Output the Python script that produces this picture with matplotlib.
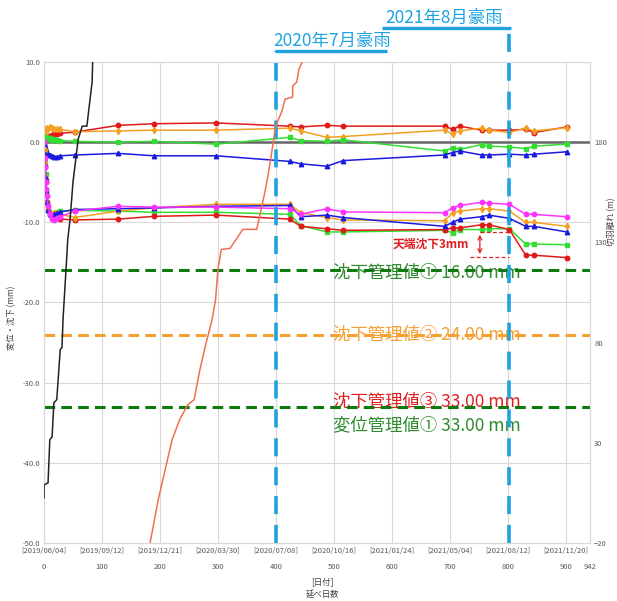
import matplotlib
matplotlib.use("Agg")
import matplotlib.pyplot as plt

plt.rcParams['font.family'] = ['Noto Sans CJK JP', 'DejaVu Sans']

# ---------------- data ----------------
early_days = [0, 1, 2, 3, 4, 5, 7, 10, 14, 18, 22, 28]
main_days = [53, 128, 190, 297, 424, 443, 488, 516, 691, 705, 717, 755, 767, 803, 831, 845, 902]

# upper group (mm)
up_red_early = [0, 0.2, 0.3, 0.5, 0.6, 0.7, 0.8, 0.8, 0.9, 1.0, 1.0, 1.1]
up_red = [1.25, 2.1, 2.3, 2.4, 2.0, 1.9, 2.1, 2.0, 2.0, 1.6, 2.0, 1.5, 1.5, 1.5, 1.6, 1.2, 1.9]
up_orange_early = [0, 1.0, 1.4, 1.6, 1.7, 1.8, 1.7, 1.9, 1.8, 1.7, 1.6, 1.6]
up_orange = [1.3, 1.4, 1.5, 1.5, 1.75, 1.4, 0.6, 0.7, 1.5, 1.0, 1.4, 1.75, 1.5, 1.2, 1.75, 1.4, 1.8]
up_green_early = [0, 0.2, 0.4, 0.5, 0.6, 0.5, 0.4, 0.5, 0.3, 0.4, 0.3, 0.2]
up_green = [0.1, 0.0, 0.1, -0.25, 0.6, 0.2, 0.1, 0.3, -1.1, -0.7, -0.9, -0.3, -0.5, -0.6, -0.8, -0.5, -0.25]
up_blue_early = [0, -0.3, -0.6, -0.9, -1.1, -1.3, -1.5, -1.6, -1.7, -1.8, -1.8, -1.7]
up_blue = [-1.6, -1.4, -1.7, -1.7, -2.4, -2.7, -3.0, -2.3, -1.6, -1.3, -1.1, -1.6, -1.6, -1.5, -1.6, -1.5, -1.2]

# lower group (mm)
lo_magenta_early = [0, -2.0, -3.1, -5.0, -5.9, -6.7, -8.0, -9.0, -9.6, -9.7, -9.5, -9.3]
lo_magenta = [-8.6, -8.0, -8.1, -8.1, -8.3, -9.0, -8.3, -8.7, -8.8, -8.2, -7.9, -7.5, -7.6, -7.75, -9.0, -9.0, -9.3]
lo_orange_early = [0, -1.0, -2.5, -4.5, -6.0, -7.5, -8.5, -9.0, -9.0, -8.8, -8.8, -9.0]
lo_orange = [-9.4, -8.6, -8.2, -7.75, -7.75, -8.8, -9.4, -9.7, -9.8, -8.8, -8.6, -8.3, -8.3, -8.6, -10.0, -10.0, -10.5]
lo_blue_early = [0, -1.5, -3.0, -4.5, -6.0, -7.5, -8.5, -9.0, -9.2, -9.0, -8.8, -8.7]
lo_blue = [-8.4, -8.3, -8.2, -8.0, -7.9, -9.3, -9.1, -9.4, -10.5, -10.0, -9.6, -9.3, -9.1, -9.5, -10.5, -10.5, -11.2]
lo_green_early = [0, -1.0, -2.5, -4.0, -6.0, -7.5, -8.5, -8.8, -8.9, -8.8, -8.7, -8.6]
lo_green = [-8.5, -8.6, -8.75, -8.75, -9.0, -10.4, -11.2, -11.2, -11.0, -11.3, -10.9, -10.9, -10.8, -10.8, -12.7, -12.7, -12.8]
lo_red_early = [0, -1.0, -3.0, -5.0, -6.5, -7.5, -8.5, -9.0, -9.3, -9.4, -9.5, -9.6]
lo_red = [-9.7, -9.6, -9.25, -9.1, -9.6, -10.5, -10.8, -11.0, -10.9, -10.7, -10.7, -10.3, -10.3, -10.9, -14.1, -14.1, -14.4]

# face distance (m), right axis
face1_days = [0, 0, 7, 10, 14, 17, 22, 28, 31, 33, 38, 41, 45, 50, 59, 66, 74, 76, 83, 84, 90]
face1_dist = [2.5, 9, 10, 31.5, 33, 50, 51.5, 76.5, 77.5, 92.5, 116.5, 131.5, 141.5, 160, 181.5, 188, 188, 193, 210, 220.5, 240]
face2_days = [183, 197, 209, 221, 234, 248, 259, 269, 279, 290, 296, 300, 306, 321, 343, 367, 372, 381, 386,
              393, 398, 401, 410, 416, 429, 429, 436, 440, 448, 455]
face2_dist = [-20, 1.5, 16.5, 31.5, 41.5, 49, 51.5, 66.5, 79, 91.5, 101.5, 116.5, 126.5, 127, 136.5, 136.5, 143,
              155, 162.5, 175, 185, 189, 195, 201.5, 202.5, 208, 210, 216.5, 221.5, 235]

# management values
limits = [-16.0, -24.0, -33.0]
limit_labels = ['沈下管理値① 16.00 mm', '沈下管理値② 24.00 mm', '沈下管理値③ 33.00 mm', '変位管理値① 33.00 mm']

rain_days = [400, 803]
rain_labels = ['2020年7月豪雨', '2021年8月豪雨']

x_ticks = [0, 100, 200, 300, 400, 500, 600, 700, 800, 900]
x_dates = ['[2019/06/04]', '[2019/09/12]', '[2019/12/21]', '[2020/03/30]', '[2020/07/08]',
           '[2020/10/16]', '[2021/01/24]', '[2021/05/04]', '[2021/08/12]', '[2021/11/20]']
x_numbers = x_ticks + [942]

# ---------------- plot ----------------
fig = plt.figure(figsize=(6.17, 6.01), dpi=100)
ax = fig.add_axes([44/617, 1-543/601, (590-44)/617, (543-62)/601])
ax2 = ax.twinx()

ax.set_xlim(0, 942)
ax.set_ylim(-50, 10)
ax2.set_ylim(-20, 220)

grid_c = '#d9d9d9'
ax.set_yticks(range(-50, 11, 10))
ax.set_yticklabels([f'{v:.1f}' for v in range(-50, 11, 10)])
ax.set_xticks(x_numbers)
ax.set_xticklabels(x_dates + [''])
ax.grid(True, color=grid_c, lw=0.8)
ax.set_axisbelow(True)
ax2.set_yticks([-20, 30, 80, 130, 180])
for a in (ax, ax2):
    a.tick_params(length=0, labelsize=5.5, labelcolor='#595959', pad=3)
    for s in a.spines.values():
        s.set_color(grid_c)

for n in x_numbers:
    ax.annotate(str(n), xy=(n, 0), xycoords=('data', 'axes fraction'), xytext=(0, -17),
                textcoords='offset points', ha='center', va='center', fontsize=5.5, color='#595959')

ax.axhline(0, color='#666666', lw=1.8, zorder=2)


def series(early, main, color, marker):
    days = early_days + main_days
    vals = early + main
    ax.plot(days, vals, color=color, lw=1.1, marker=marker, ms=3.2, zorder=3)


series(up_red_early, up_red, '#e01a1a', 'o')
series(up_orange_early, up_orange, '#f5a023', 'd')
series(up_green_early, up_green, '#33dd33', 's')
series(up_blue_early, up_blue, '#1a1ae0', '^')
series(lo_green_early, lo_green, '#33dd33', 's')
series(lo_red_early, lo_red, '#e01a1a', 'o')
series(lo_orange_early, lo_orange, '#f5a023', 'd')
series(lo_blue_early, lo_blue, '#1a1ae0', '^')
series(lo_magenta_early, lo_magenta, '#ff33ff', 'o')

ax2.plot(face1_days, face1_dist, color='#222222', lw=1.1, zorder=3)
ax2.plot(face2_days, face2_dist, color='#f07050', lw=1.1, zorder=3)

# management lines
ax.axhline(limits[0], color='#0d7a0d', lw=2.2, dashes=(3.5, 2), zorder=5)
ax.axhline(limits[1], color='#f5a030', lw=2.2, dashes=(3.5, 2), zorder=5)
ax.axhline(limits[2], color='#0d7a0d', lw=2.2, dashes=(3.5, 2), zorder=5)
tx = 660
ax.text(tx, -16.25, limit_labels[0], color='#2e8b2e', fontsize=12.5, ha='center', va='center', zorder=4)
ax.text(tx, -24.0, limit_labels[1], color='#f5a030', fontsize=12.5, ha='center', va='center', zorder=4)
ax.text(tx, -32.4, limit_labels[2], color='#e02020', fontsize=12.5, ha='center', va='center', zorder=4)
ax.text(tx, -35.3, limit_labels[3], color='#2e8b2e', fontsize=12.5, ha='center', va='center', zorder=4)

# crown settlement annotation
ax.plot([752, 803], [-11.2, -11.2], color='#e02020', lw=0.9, ls=(0, (3, 2)), zorder=4)
ax.plot([735, 803], [-14.3, -14.3], color='#e02020', lw=0.9, ls=(0, (3, 2)), zorder=4)
ax.annotate('', xy=(752, -11.2), xytext=(752, -14.3),
            arrowprops=dict(arrowstyle='<->', color='#e02020', lw=0.9, mutation_scale=7), zorder=4)
ax.text(733, -12.7, '天端沈下3mm', color='#e02020', fontsize=8.5, fontweight='bold', ha='right', va='center')

# heavy rain markers
rc = '#1ea3e0'
ax.plot([rain_days[0], rain_days[0]], [-50, 11.4], color=rc, lw=2.6, dashes=(5, 3), clip_on=False, zorder=6)
ax.plot([rain_days[1], rain_days[1]], [-50, 14.25], color=rc, lw=2.6, dashes=(5, 3), clip_on=False, zorder=6)
ax.plot([398, 591], [11.4, 11.4], color=rc, lw=2.4, clip_on=False, zorder=6, solid_capstyle='butt')
ax.plot([583, 805], [14.25, 14.25], color=rc, lw=2.4, clip_on=False, zorder=6, solid_capstyle='butt')
ax.text(498, 12.6, rain_labels[0], color=rc, fontsize=12.5, ha='center', va='center', clip_on=False)
ax.text(691, 15.5, rain_labels[1], color=rc, fontsize=12.5, ha='center', va='center', clip_on=False)

# axis titles
fig.text(12/617, 1-318/601, '変位・沈下 (mm)', rotation=90, fontsize=6, color='#404040', ha='center', va='center')
fig.text(612/617, 1-222/601, '切羽離れ (m)', rotation=90, fontsize=6, color='#404040', ha='center', va='center')
fig.text(322/617, 1-582/601, '[日付]', fontsize=6, color='#404040', ha='center', va='center')
fig.text(322/617, 1-594/601, '延べ日数', fontsize=6, color='#404040', ha='center', va='center')

fig.savefig('out.png', dpi=100)
